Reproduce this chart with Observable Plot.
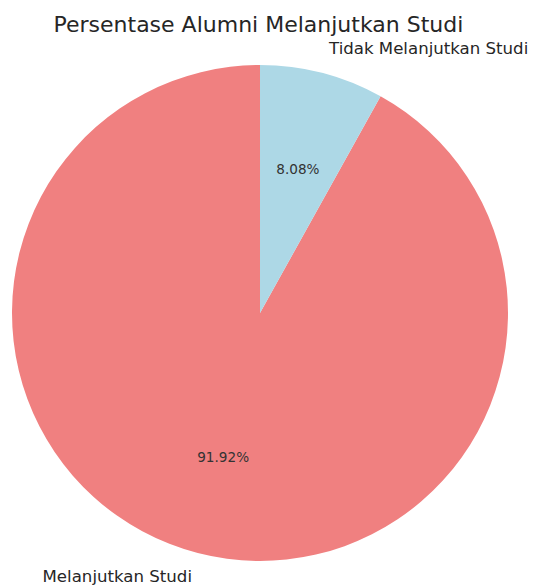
<!DOCTYPE html>
<html>
<head>
<meta charset="utf-8">
<script src="https://cdn.jsdelivr.net/npm/d3@7"></script>
<script src="https://cdn.jsdelivr.net/npm/@observablehq/plot@0.6"></script>
<style>
  html, body { margin: 0; padding: 0; background: #fff; }
  #wrap { width: 534px; height: 586px; position: relative; font-family: "DejaVu Sans", sans-serif; }
  #title { height: 36px; width: 534px; text-align: center; font-size: 22px; line-height: 49px; color: #262626; white-space: nowrap; position: relative; left: -8.6px; overflow: visible; }
  svg { display: block; }
</style>
</head>
<body>
<div id="wrap">
  <div id="title">Persentase Alumni Melanjutkan Studi</div>
  <div id="chart"></div>
</div>
<script>
const categories = ["Melanjutkan Studi", "Tidak Melanjutkan Studi"];
const values = [91.92, 8.08];
const colors = ["#F08080", "#ADD8E6"];
const pctLabels = ["91.92%", "8.08%"];

const total = d3.sum(values);
const startDeg = 90; // matplotlib startangle, counterclockwise
let acc = 0;
const slices = categories.map((c, i) => {
  const a0 = startDeg + 360 * acc / total;
  acc += values[i];
  const a1 = startDeg + 360 * acc / total;
  const mid = (a0 + a1) / 2 * Math.PI / 180;
  return {
    category: c, value: values[i], color: colors[i], pct: pctLabels[i],
    start: (90 - a1) * Math.PI / 180,
    end: (90 - a0) * Math.PI / 180,
    lx: 1.1 * Math.cos(mid), ly: 1.1 * Math.sin(mid),
    px: 0.6 * Math.cos(mid), py: 0.6 * Math.sin(mid)
  };
});

const W = 534, H = 550, R = 248, CX = 260, CY = 277;

function pieMark(index, scales) {
  const cx = scales.x(0), cy = scales.y(0);
  const r = Math.abs(scales.x(1) - scales.x(0));
  const g = d3.create("svg:g").attr("transform", `translate(${cx},${cy})`);
  const arc = d3.arc().innerRadius(0).outerRadius(r);
  g.selectAll("path").data(slices).join("path")
    .attr("d", d => arc({startAngle: d.start, endAngle: d.end}))
    .attr("fill", d => d.color);
  return g.node();
}

const plot = Plot.plot({
  width: W, height: H,
  margin: 0,
  x: {domain: [-CX / R, (W - CX) / R], axis: null},
  y: {domain: [-(H - CY) / R, CY / R], axis: null},
  style: {fontFamily: "DejaVu Sans, sans-serif", background: "#fff", overflow: "visible"},
  marks: [
    pieMark,
    Plot.text(slices, {
      x: "px", y: "py", text: "pct",
      fontSize: 13.6, fill: "#333"
    }),
    Plot.text(slices.filter(d => d.lx > 0), {
      x: "lx", y: "ly", text: "category",
      textAnchor: "start",
      fontSize: 16.6, fill: "#262626", dy: -1
    }),
    Plot.text(slices.filter(d => d.lx <= 0), {
      x: "lx", y: "ly", text: "category",
      textAnchor: "end",
      fontSize: 16.6, fill: "#262626", dy: -0.5
    })
  ]
});
document.getElementById("chart").appendChild(plot);
</script>
</body>
</html>
